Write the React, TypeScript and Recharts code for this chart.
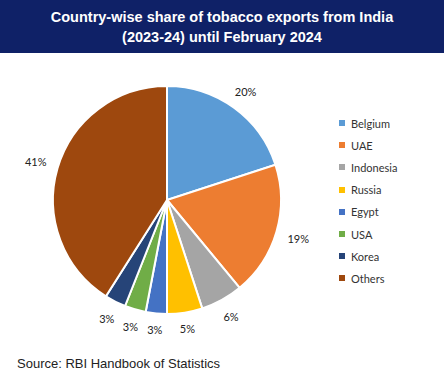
import { Pie, PieChart, Cell } from "recharts";

const countries = ["Belgium", "UAE", "Indonesia", "Russia", "Egypt", "USA", "Korea", "Others"];
const shares = [20, 19, 6, 5, 3, 3, 3, 41];
const COLORS = ["#5b9bd5", "#ed7d31", "#a5a5a5", "#ffc000", "#4472c4", "#70ad47", "#264478", "#9e480e"];

const data = countries.map((name, i) => ({ name, value: shares[i] }));

const RAD = Math.PI / 180;
const LABEL_FONT = "Lato, 'Open Sans', sans-serif";

// labels sit just outside the rim, a bit further out at the sides (like Excel's "outside end")
function renderLabel(props: any) {
  const { cx, cy, midAngle, outerRadius, value } = props;
  const c = Math.cos(-midAngle * RAD);
  const s = Math.sin(-midAngle * RAD);
  const r = outerRadius + 15 + 8 * Math.abs(c);
  return (
    <text x={cx + r * c} y={cy + r * s} textAnchor="middle" dominantBaseline="central" fill="#222" fontSize={11} fontFamily={LABEL_FONT}>
      {`${value}%`}
    </text>
  );
}

export default function App() {
  return (
    <div style={{ position: "fixed", left: 0, top: 0, width: 444, height: 388, background: "#fff" }}>
      <div
        style={{
          height: 53,
          background: "#0f2167",
          color: "#fff",
          fontFamily: "'Liberation Sans', Arial, sans-serif",
          fontWeight: 700,
          fontSize: 14.5,
          lineHeight: "20px",
          textAlign: "center",
          paddingTop: 7,
          boxSizing: "border-box",
        }}
      >
        Country-wise share of tobacco exports from India
        <br />
        (2023-24) until February 2024
      </div>
      <div style={{ position: "absolute", left: 0, top: 53 }}>
        <PieChart width={330} height={300} margin={{ top: 0, right: 0, bottom: 0, left: 0 }}>
          <Pie
            data={data}
            dataKey="value"
            nameKey="name"
            cx={167}
            cy={147}
            outerRadius={114}
            startAngle={90}
            endAngle={-270}
            stroke="#fff"
            strokeWidth={2}
            label={renderLabel}
            labelLine={false}
            isAnimationActive={false}
          >
            {data.map((_, i) => (
              <Cell key={i} fill={COLORS[i]} />
            ))}
          </Pie>
        </PieChart>
      </div>
      <div style={{ position: "absolute", left: 339, top: 112, fontFamily: LABEL_FONT, fontSize: 11, color: "#333" }}>
        {countries.map((c, i) => (
          <div key={c} style={{ display: "flex", alignItems: "center", height: 22.2 }}>
            <span style={{ width: 6, height: 6, background: COLORS[i], marginRight: 6, display: "inline-block" }} />
            {c}
          </div>
        ))}
      </div>
      <div
        style={{
          position: "absolute",
          left: 17,
          top: 356,
          fontFamily: "'Liberation Sans', Arial, sans-serif",
          fontSize: 13,
          color: "#222",
        }}
      >
        Source: RBI Handbook of Statistics
      </div>
    </div>
  );
}
